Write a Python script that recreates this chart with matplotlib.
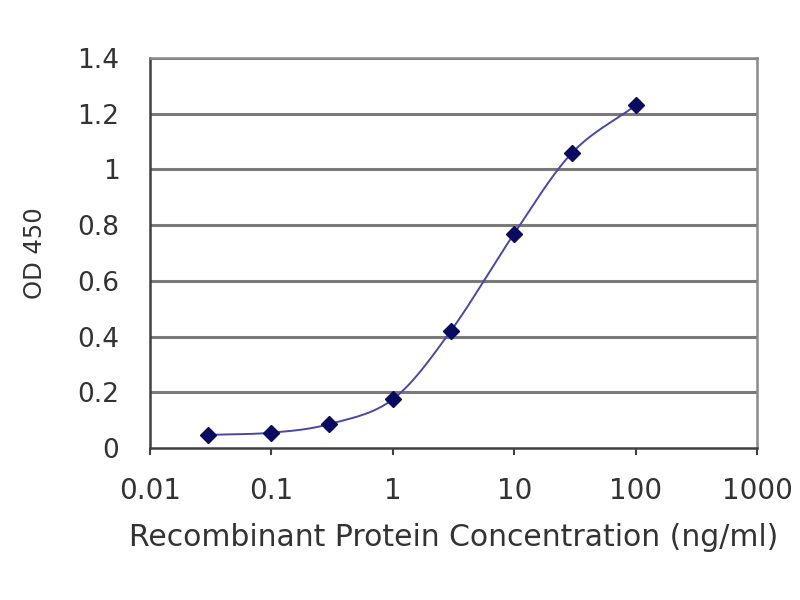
import numpy as np
import matplotlib
matplotlib.use("Agg")
import matplotlib.pyplot as plt

conc = [0.03, 0.1, 0.3, 1, 3, 10, 30, 100]
od450 = [0.047, 0.055, 0.086, 0.175, 0.42, 0.77, 1.06, 1.23]
xticks = [0.01, 0.1, 1, 10, 100, 1000]
xtick_labels = ["0.01", "0.1", "1", "10", "100", "1000"]
yticks = [0, 0.2, 0.4, 0.6, 0.8, 1, 1.2, 1.4]
ytick_labels = ["0", "0.2", "0.4", "0.6", "0.8", "1", "1.2", "1.4"]

plt.rcParams['font.family'] = ['DejaVu Sans']
txt = "#333333"

fig = plt.figure(figsize=(8, 6), dpi=100)
ax = fig.add_axes([0.1875, 0.2533, 0.7588, 0.65])

# smooth curve (Catmull-Rom in log-x space) through the data points
lx = np.log10(conc)
yy = np.array(od450)
P = np.column_stack([lx, yy])
Pext = np.vstack([2 * P[0] - P[1], P, 2 * P[-1] - P[-2]])
curve = []
t = np.linspace(0, 1, 30)
for i in range(1, len(Pext) - 2):
    p0, p1, p2, p3 = Pext[i - 1], Pext[i], Pext[i + 1], Pext[i + 2]
    seg = 0.5 * ((2 * p1)[None, :] + (-p0 + p2)[None, :] * t[:, None]
                 + (2 * p0 - 5 * p1 + 4 * p2 - p3)[None, :] * t[:, None] ** 2
                 + (-p0 + 3 * p1 - 3 * p2 + p3)[None, :] * t[:, None] ** 3)
    curve.append(seg)
curve = np.vstack(curve)
ax.plot(10 ** curve[:, 0], curve[:, 1], color="#4848a8", lw=1.4, zorder=3)
ax.plot(conc, od450, linestyle="none", marker="D", markersize=8,
        color="#0a0a60", zorder=4)

ax.set_xscale("log")
ax.set_xlim(0.01, 1000)
ax.set_ylim(0, 1.4)
ax.set_xticks(xticks)
ax.set_xticklabels(xtick_labels)
ax.minorticks_off()
ax.set_yticks(yticks)
ax.set_yticklabels(ytick_labels)

for yv in yticks[1:]:
    ax.axhline(yv, color="#7a7a7a", lw=2.2, zorder=1)

for side in ["top", "right"]:
    ax.spines[side].set_color("#8a8a8a")
    ax.spines[side].set_linewidth(1.8)
for side in ["left", "bottom"]:
    ax.spines[side].set_color("#404040")
    ax.spines[side].set_linewidth(1.8)

ax.tick_params(axis="x", direction="out", length=5, width=1.5, color="#404040",
               labelsize=20, pad=16, labelcolor=txt)
ax.tick_params(axis="y", length=0, labelsize=19, pad=22, labelcolor=txt)

ax.set_xlabel("Recombinant Protein Concentration (ng/ml)", fontsize=21.5,
              color=txt, labelpad=13)
ax.set_ylabel("OD 450", fontsize=17.5, color=txt, labelpad=22)

fig.savefig("out.png", dpi=100)
